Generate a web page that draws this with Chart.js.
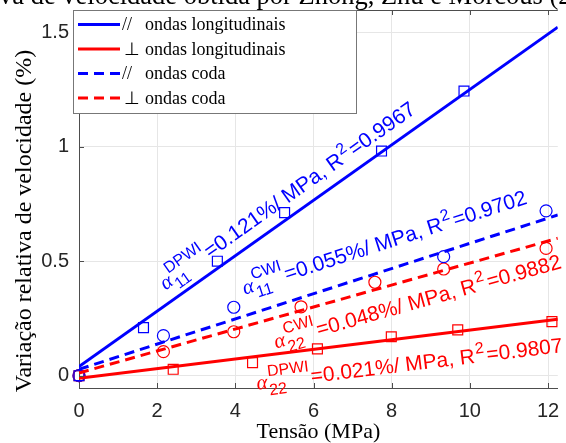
<!DOCTYPE html>
<html lang="pt">
<head>
<meta charset="utf-8">
<title>Variação relativa de velocidade</title>
<script src="https://cdn.jsdelivr.net/npm/chart.js@4.4.1/dist/chart.umd.min.js"></script>
<style>
  html, body { margin: 0; padding: 0; background: #fff; }
  #caixa { position: relative; width: 566px; height: 443px; }
</style>
</head>
<body>
<div id="caixa"><canvas id="grafico"></canvas></div>
<script>
// Pontos medidos: tensão (MPa) e variação relativa de velocidade (%)
const tensaoLongPar = [0, 1.65, 3.54, 5.26, 7.74, 9.85]
const vLongPar = [0, 0.21, 0.50, 0.712, 0.981, 1.243]
const tensaoLongPerp = [0, 2.41, 4.44, 6.10, 7.99, 9.69, 12.1]
const vLongPerp = [0, 0.028, 0.057, 0.117, 0.170, 0.200, 0.236]
const tensaoCodaPar = [0, 2.16, 3.96, 9.33, 11.95]
const vCodaPar = [0, 0.175, 0.299, 0.52, 0.72]
const tensaoCodaPerp = [0, 2.16, 3.96, 5.68, 7.57, 9.33, 11.95]
const vCodaPerp = [0, 0.105, 0.192, 0.301, 0.408, 0.466, 0.556]

// Retas ajustadas (ordem: // long, ⊥ long, // coda, ⊥ coda)
const inclinacoes = [0.121, 0.021, 0.055, 0.048]
const interceptos = [0.04, -0.011, 0.028, 0.012]
const r2 = ['0.9967', '0.9807', '0.9702', '0.9882']
const coefSub = ['11', '22', '11', '22']
const coefSup = ['DPWI', 'DPWI', 'CWI', 'CWI']
// onde começa cada anotação (α), em unidades dos eixos
const anotX = [2.21, 4.56, 4.24, 5.04]
const anotY = [0.372, -0.061, 0.354, 0.119]

const simbolos = ['//', '⊥', '//', '⊥']
const legendas = ['ondas longitudinais', 'ondas longitudinais', 'ondas coda', 'ondas coda']
const xTicks = [0, 2, 4, 6, 8, 10, 12]
const yTicks = [0, 0.5, 1, 1.5]

const X_MIN = 0, X_MAX = 12.25
const Y_MIN = -0.0537, Y_MAX = 1.597
const cores = ['#0000ff', '#ff0000', '#0000ff', '#ff0000']
const tracos = [[], [], [10, 6], [10, 6]]
const corEixo = '#4d4d4d'

const pontos = [
    [tensaoLongPar, vLongPar, 'rect'],
    [tensaoLongPerp, vLongPerp, 'rect'],
    [tensaoCodaPar, vCodaPar, 'circle'],
    [tensaoCodaPerp, vCodaPerp, 'circle']
]

const datasets = []
for (let i = 0; i < 4; i++) {
    const m = inclinacoes[i], b = interceptos[i]
    datasets.push({
        label: legendas[i],
        data: [{ x: X_MIN, y: b + m * X_MIN }, { x: X_MAX, y: b + m * X_MAX }],
        showLine: true,
        borderColor: cores[i],
        borderWidth: 3,
        borderDash: tracos[i],
        pointRadius: 0,
        fill: false
    })
}
pontos.forEach(([xs, ys, estilo], i) => {
    datasets.push({
        label: 'medidas ' + i,
        data: xs.map((x, k) => ({ x, y: ys[k] })),
        showLine: false,
        pointStyle: estilo,
        pointRadius: estilo === 'rect' ? 7 : 6,
        pointBorderWidth: 1.2,
        borderColor: cores[i],
        backgroundColor: 'rgba(0,0,0,0)',
        clip: false
    })
})

// título da figura (cortado no topo) e título do eixo y
const textos = {
    id: 'textos',
    afterDraw(chart) {
        const ctx = chart.ctx
        ctx.save()
        ctx.font = '26.5px "Liberation Serif"'
        ctx.fillStyle = '#000'
        ctx.textBaseline = 'alphabetic'
        const desloc = ctx.measureText('Variação relati').width
        ctx.fillText('Variação relativa de velocidade obtida por Zhong, Zhu e Morcous (2021)', -desloc - 1, 4)

        ctx.translate(25, 221)
        ctx.rotate(-Math.PI / 2)
        ctx.font = '24px "Liberation Serif"'
        ctx.textAlign = 'center'
        ctx.textBaseline = 'middle'
        ctx.fillText('Variação relativa de velocidade (%)', 0, 0)
        ctx.restore()
    }
}

// moldura superior e marcas de escala para dentro
const moldura = {
    id: 'moldura',
    afterDatasetsDraw(chart) {
        const { ctx, chartArea: a, scales } = chart
        ctx.save()
        ctx.strokeStyle = corEixo
        ctx.lineWidth = 1
        ctx.beginPath()
        ctx.moveTo(a.left, a.top + 0.5)
        ctx.lineTo(a.right, a.top + 0.5)
        xTicks.forEach(v => {
            const px = Math.round(scales.x.getPixelForValue(v)) + 0.5
            ctx.moveTo(px, a.bottom); ctx.lineTo(px, a.bottom - 5)
            ctx.moveTo(px, a.top); ctx.lineTo(px, a.top + 5)
        })
        yTicks.forEach(v => {
            const py = Math.round(scales.y.getPixelForValue(v)) + 0.5
            ctx.moveTo(a.left, py); ctx.lineTo(a.left + 5, py)
        })
        ctx.stroke()
        ctx.restore()
    }
}

function escreverAnotacao(ctx, i, px, py, ang) {
    ctx.save()
    ctx.translate(px, py)
    ctx.rotate(ang)
    ctx.fillStyle = cores[i]
    ctx.textAlign = 'left'
    ctx.textBaseline = 'alphabetic'
    ctx.font = 'italic 21px "Liberation Serif"'
    ctx.fillText('α', 0, 0)
    let x = ctx.measureText('α').width + 1
    ctx.font = '16px "Liberation Sans"'
    ctx.fillText(coefSub[i], x, 7)
    ctx.fillText(coefSup[i], x, -12)
    x += Math.max(ctx.measureText(coefSub[i]).width, ctx.measureText(coefSup[i]).width) + 1
    ctx.font = '21px "Liberation Sans"'
    const t1 = '=' + inclinacoes[i].toFixed(3) + '%/ MPa, R'
    ctx.fillText(t1, x, 0)
    x += ctx.measureText(t1).width
    ctx.font = '16px "Liberation Sans"'
    ctx.fillText('2', x + 1, -9)
    x += ctx.measureText('2').width + 3
    ctx.font = '21px "Liberation Sans"'
    ctx.fillText('=' + r2[i], x, 0)
    ctx.restore()
}

// anotações α inclinadas junto de cada reta
const anotacoes = {
    id: 'anotacoes',
    afterDatasetsDraw(chart) {
        const { ctx, scales } = chart
        const pxX = scales.x.getPixelForValue(1) - scales.x.getPixelForValue(0)
        const pxY = scales.y.getPixelForValue(0) - scales.y.getPixelForValue(1)
        for (let i = 0; i < 4; i++) {
            const ang = -Math.atan(inclinacoes[i] * pxY / pxX)
            escreverAnotacao(ctx, i, scales.x.getPixelForValue(anotX[i]), scales.y.getPixelForValue(anotY[i]), ang)
        }
    }
}

// legenda no canto superior esquerdo
const legendaCaixa = {
    id: 'legendaCaixa',
    afterDraw(chart) {
        const ctx = chart.ctx
        const x0 = 73.5, y0 = 10.5, w = 283, h = 103
        ctx.save()
        ctx.fillStyle = '#fff'
        ctx.fillRect(x0, y0, w, h)
        ctx.strokeStyle = '#777'
        ctx.lineWidth = 1
        ctx.strokeRect(x0, y0, w, h)
        for (let i = 0; i < 4; i++) {
            const ds = chart.data.datasets[i]
            const y = 24.5 + i * 24.5
            ctx.strokeStyle = ds.borderColor
            ctx.lineWidth = 3
            ctx.setLineDash(ds.borderDash)
            ctx.beginPath()
            ctx.moveTo(78, y)
            ctx.lineTo(120, y)
            ctx.stroke()
            ctx.setLineDash([])
            ctx.fillStyle = '#000'
            ctx.textBaseline = 'middle'
            ctx.font = '18px "Liberation Serif"'
            ctx.fillText(simbolos[i], simbolos[i] === '//' ? 122 : 124, y + 1)
            ctx.fillText(ds.label, 145, y + 1)
        }
        ctx.restore()
    }
}

new Chart(document.getElementById('grafico'), {
    type: 'scatter',
    data: { datasets },
    plugins: [moldura, anotacoes, legendaCaixa, textos],
    options: {
        responsive: true,
        maintainAspectRatio: false,
        animation: false,
        devicePixelRatio: 1,
        layout: { padding: { top: 10, right: 0, bottom: 0, left: 0 } },
        plugins: { legend: { display: false }, tooltip: { enabled: false } },
        scales: {
            x: {
                type: 'linear',
                min: X_MIN,
                max: X_MAX,
                afterBuildTicks: s => { s.ticks = xTicks.map(v => ({ value: v })) },
                afterFit: s => { s.height = 55; s.paddingLeft = 0; s.paddingRight = 0 },
                ticks: {
                    padding: 11,
                    color: '#262626',
                    font: { family: 'Liberation Sans', size: 20 },
                    callback: v => String(v)
                },
                grid: { color: '#e6e6e6', drawTicks: false },
                border: { display: true, color: corEixo },
                title: {
                    display: true,
                    text: 'Tensão (MPa)',
                    color: '#000',
                    font: { family: 'Liberation Serif', size: 22 },
                    padding: { top: 0, bottom: -2 }
                }
            },
            y: {
                type: 'linear',
                min: Y_MIN,
                max: Y_MAX,
                afterBuildTicks: s => { s.ticks = yTicks.map(v => ({ value: v })) },
                afterFit: s => { s.width = 79; s.paddingTop = 0; s.paddingBottom = 0 },
                ticks: {
                    padding: 10,
                    color: '#262626',
                    font: { family: 'Liberation Sans', size: 20 },
                    callback: v => String(v)
                },
                grid: { color: '#e6e6e6', drawTicks: false },
                border: { display: true, color: corEixo }
            }
        }
    }
})
</script>
</body>
</html>
